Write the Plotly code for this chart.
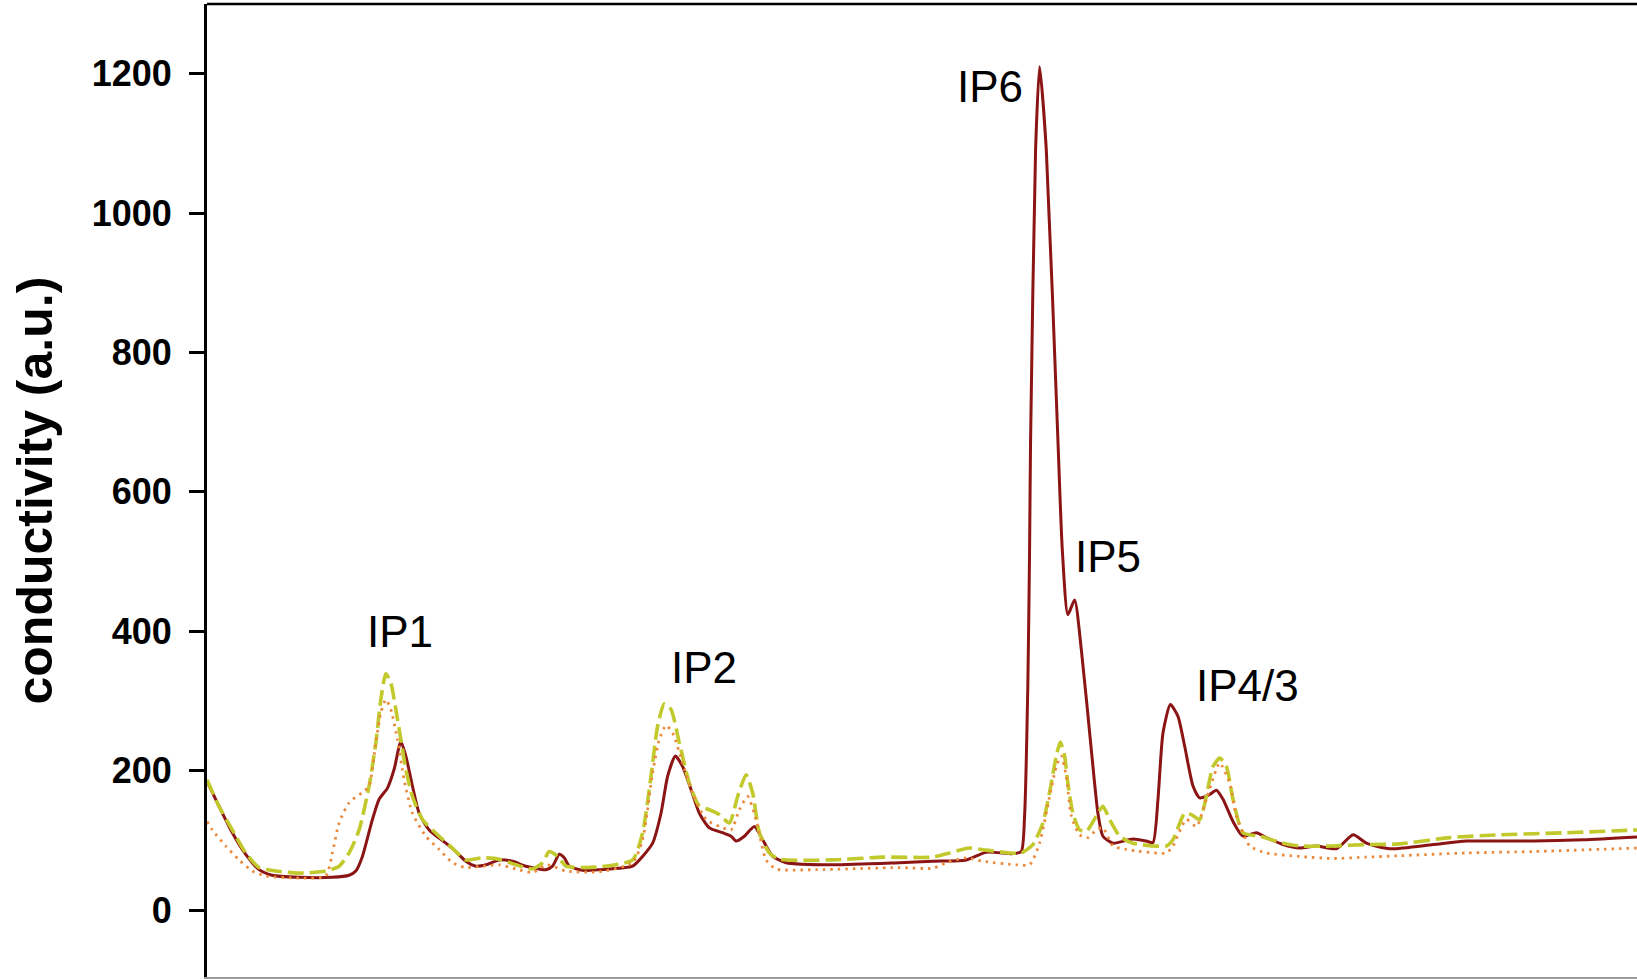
import plotly.graph_objects as go

# ---- data (x: elution position, arbitrary units; y: conductivity, a.u.) ----
red_x = [0, 1.2, 2.53, 3.87, 5.2, 6.5, 9.2, 12.5, 14.2, 14.87, 15.53, 16.53, 17.2, 18.03, 18.7, 19.37,
         19.87, 20.53, 21.2, 22.2, 23.87, 24.87, 25.87, 26.87, 27.87, 29.2, 30.53, 31.87, 33.87, 34.53,
         35.2, 35.7, 36.2, 37.53, 39.2, 42.53, 43.53, 44.53, 45.37, 46.03, 46.8, 47.53, 48.37, 49.2,
         50.2, 51.53, 52.37, 52.87, 53.7, 54.7, 55.53, 56.53, 57.87, 62.53, 69.2, 72.53, 75.87, 77.87,
         80.53, 81.37, 81.7, 82.03, 82.2, 82.3, 82.8, 83.2, 83.87, 85.03, 85.47, 86.03, 86.7, 87.37,
         88.37, 89.03, 89.53, 90.53, 92.53, 93.87, 94.53, 95.03, 95.53, 96.27, 97.03, 97.7, 98.53,
         99.2, 100.2, 100.87, 101.53, 102.53, 103.53, 104.87, 105.87, 107.53, 109.2, 110.87, 112.87,
         114.53, 115.87, 118.2, 122.53, 125.87, 132.53, 137.53, 142.9]
red_y = [185, 149, 111, 80, 58, 50, 47, 47, 50, 56, 77, 130, 159, 175, 202, 242,
         221, 178, 139, 115, 96, 84, 70, 63, 65, 72, 70, 63, 58, 63,
         80, 75, 63, 57, 58, 63, 77, 96, 139, 192, 221, 206, 173, 139,
         118, 111, 106, 99, 106, 120, 101, 77, 68, 65, 68, 70, 72, 83,
         81, 84, 135, 326, 517, 675, 1091, 1210, 1091, 675, 517, 424, 445, 374,
         230, 139, 106, 96, 102, 99, 97, 159, 254, 295, 278, 235, 178,
         161, 166, 172, 159, 127, 106, 111, 104, 94, 89, 92, 88,
         108, 96, 88, 94, 99, 99, 101, 105]

yel_x = [0, 1.2, 2.53, 3.87, 5.2, 6.87, 9.2, 11.87, 13.2, 14.2, 15.2, 16.2, 16.87, 17.37, 17.87, 18.37,
         18.87, 19.37, 19.87, 20.53, 21.53, 23.2, 24.53, 25.87, 27.53, 29.2, 30.87, 32.53, 33.53, 34.2,
         35.03, 35.87, 37.53, 39.2, 42.53, 43.53, 44.37, 45.03, 45.7, 46.37, 47.2, 48.2, 49.2, 50.2,
         51.2, 52.2, 53.03, 53.87, 54.53, 55.2, 56.2, 57.2, 62.53, 67.53, 72.53, 74.2, 76.2, 77.87,
         80.2, 81.37, 82.53, 83.53, 84.37, 84.87, 85.27, 85.7, 86.03, 86.53, 87.2, 87.87, 88.87,
         89.53, 90.2, 91.2, 92.53, 95.87, 96.53, 97.7, 98.37, 99.2, 100.53, 101.2, 101.87, 102.53,
         103.53, 105.2, 107.53, 109.2, 112.53, 115.87, 119.2, 124.2, 129.2, 135.87, 142.9]
yel_y = [187, 149, 115, 82, 61, 56, 53, 56, 63, 82, 115, 178, 240, 302, 339, 326,
         288, 245, 202, 163, 130, 106, 89, 72, 75, 73, 65, 59, 68, 84,
         77, 63, 61, 62, 72, 111, 192, 264, 296, 288, 240, 182, 149, 144,
         137, 125, 163, 194, 168, 111, 82, 73, 72, 76, 76, 82, 89, 86,
         82, 82, 94, 125, 182, 221, 241, 221, 182, 139, 115, 113, 135,
         149, 130, 106, 96, 92, 101, 139, 137, 130, 206, 218, 206, 159,
         111, 106, 96, 92, 92, 94, 95, 104, 108, 111, 115]

ora_x = [0, 0.53, 1.87, 3.2, 4.53, 5.87, 9.2, 11.87, 12.53, 13.2, 14.2, 15.53, 16.2, 16.87, 17.37,
         17.87, 18.37, 19.03, 19.7, 20.53, 21.87, 23.2, 24.53, 25.87, 27.53, 29.2, 30.87, 32.53, 34.0,
         35.87, 39.2, 42.53, 43.53, 44.53, 45.2, 45.87, 46.53, 47.53, 48.53, 49.87, 51.2, 52.37, 53.2,
         54.03, 54.87, 55.87, 56.87, 60.87, 69.2, 72.53, 73.87, 75.87, 77.53, 80.87, 82.2, 83.2, 84.2,
         84.87, 85.37, 85.87, 86.37, 87.2, 88.03, 88.87, 89.53, 90.53, 91.87, 95.87, 96.53, 97.87,
         98.87, 99.87, 101.2, 102.2, 102.87, 104.2, 105.87, 109.2, 112.53, 115.87, 119.2, 125.87,
         132.53, 142.9]
ora_y = [127, 115, 92, 72, 56, 49, 46, 49, 82, 125, 154, 169, 178, 240, 283,
         302, 288, 245, 187, 139, 106, 87, 68, 61, 63, 65, 59, 54, 65,
         56, 55, 68, 101, 197, 245, 265, 254, 211, 168, 130, 120, 115, 144,
         163, 130, 72, 59, 58, 61, 60, 68, 75, 70, 65, 65, 96, 163,
         206, 221, 192, 135, 108, 104, 115, 118, 92, 87, 82, 92, 130,
         120, 159, 211, 182, 135, 92, 82, 77, 74, 76, 78, 82,
         84, 89]

peak_labels = ["IP1", "IP2", "IP6", "IP5", "IP4/3"]
peak_label_x = [19.3, 49.7, 78.2, 90.0, 103.95]
peak_label_y = [399, 348, 1182, 507, 322]

y_ticks = [0, 200, 400, 600, 800, 1000, 1200]

fig = go.Figure()
fig.add_trace(go.Scatter(x=red_x, y=red_y, mode="lines",
                         line=dict(color="#8B1414", width=3, shape="spline", smoothing=0.6),
                         showlegend=False))
fig.add_trace(go.Scatter(x=yel_x, y=yel_y, mode="lines",
                         line=dict(color="#C2C92C", width=3.6, dash="16px,6px", shape="spline", smoothing=0.6),
                         showlegend=False))
fig.add_trace(go.Scatter(x=ora_x, y=ora_y, mode="lines",
                         line=dict(color="#EB8A3C", width=2.8, dash="2.5px,5px", shape="spline", smoothing=0.6),
                         showlegend=False))

for lab, lx, ly in zip(peak_labels, peak_label_x, peak_label_y):
    fig.add_annotation(x=lx, y=ly, text=lab, showarrow=False, xanchor="center", yanchor="middle",
                       font=dict(family="Liberation Sans, Arial", size=44, color="black"))

fig.add_annotation(xref="paper", yref="paper", x=0, y=0.5, xshift=-173, text="conductivity (a.u.)",
                   textangle=-90, showarrow=False, xanchor="center", yanchor="middle",
                   font=dict(family="Liberation Sans, Arial", size=50, color="black", weight="bold"))

# top frame line
fig.add_shape(type="line", xref="paper", yref="paper", x0=0, x1=1, y0=1, y1=1,
              line=dict(color="black", width=2.5))

fig.update_layout(
    width=1637, height=979,
    margin=dict(l=207, r=0, t=4, b=2),
    paper_bgcolor="white", plot_bgcolor="white",
    xaxis=dict(range=[0, 142.9], showgrid=False, zeroline=False, showticklabels=False,
               ticks="", showline=True, linecolor="#9a9a9a", linewidth=2),
    yaxis=dict(range=[-96, 1300], showgrid=False, zeroline=False, tickvals=y_ticks,
               ticks="outside", ticklen=15, tickwidth=2.5, tickcolor="black",
               showline=True, linecolor="black", linewidth=3,
               ticklabelstandoff=10,
               tickfont=dict(family="Liberation Sans, Arial", size=36,
                             color="black", weight="bold")),
)

fig.write_html("out.html")
